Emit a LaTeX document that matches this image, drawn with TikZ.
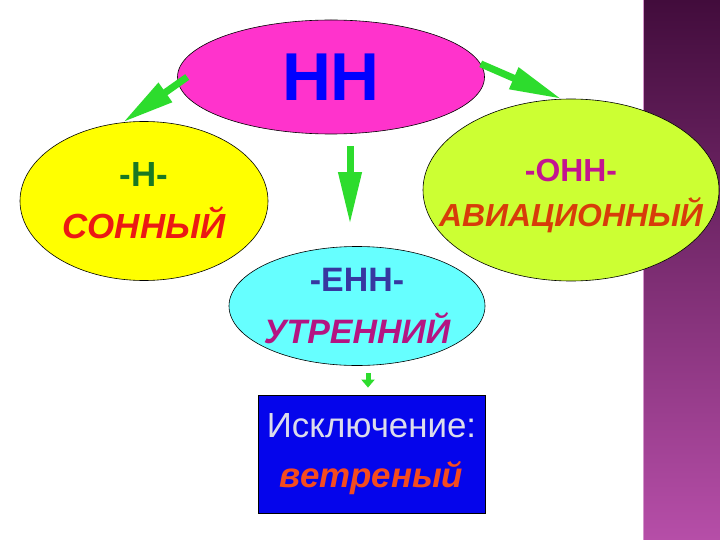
\documentclass[tikz,border=0pt]{standalone}
\usepackage{fontspec}
\setmainfont{Liberation Sans}
\usetikzlibrary{shapes,arrows.meta}
\usetikzlibrary{positioning}
\definecolor{arrgreen}{RGB}{45,220,45}
\definecolor{rootpink}{RGB}{255,51,204}
\definecolor{leafyellow}{RGB}{255,255,0}
\definecolor{leaflime}{RGB}{204,255,51}
\definecolor{leafcyan}{RGB}{102,255,255}
\definecolor{exblue}{RGB}{5,5,235}
\definecolor{nnblue}{RGB}{0,0,255}
\definecolor{hgreen}{RGB}{25,120,35}
\definecolor{sred}{RGB}{235,25,20}
\definecolor{onnpink}{RGB}{195,20,145}
\definecolor{avred}{RGB}{215,60,10}
\definecolor{ennblue}{RGB}{55,55,160}
\definecolor{utrpink}{RGB}{180,20,130}
\definecolor{exgray}{RGB}{220,220,235}
\definecolor{vetred}{RGB}{245,75,30}
\definecolor{stripdark}{RGB}{66,12,60}
\definecolor{striplight}{RGB}{182,78,168}
\tikzstyle{ell} = [draw=black, line width=0.6bp, ellipse, inner sep=0pt]
\tikzstyle{word} = [inner sep=0pt, align=center]
\tikzstyle{block} = [rectangle, draw=black, line width=0.8bp, fill=exblue,
    minimum width=227bp, minimum height=118bp, inner sep=0pt, align=center]
\tikzstyle{line} = [draw=arrgreen, line width=7bp,
    -{Triangle[width=22bp,length=52bp]}]
\tikzstyle{smallline} = [draw=arrgreen, line width=5bp,
    -{Triangle[width=13bp,length=8bp]}]
\begin{document}
\begin{tikzpicture}[x=1bp, y=-1bp]
  \useasboundingbox (0,0) rectangle (720,540);
  \fill[white] (0,0) rectangle (720,540);
  \shade[top color=stripdark, bottom color=striplight] (643,0) rectangle (720,540);
  \draw[striplight!60!white, line width=1bp] (643.5,0) -- (643.5,540);

  % Place nodes
  \node [ell, fill=rootpink, minimum width=307bp, minimum height=114bp] (nn) at (331,77) {};
  \node [ell, fill=leafcyan, minimum width=256bp, minimum height=119bp,
         below of=nn, node distance=229bp, xshift=26bp] (utr) {};
  \node [ell, fill=leafyellow, minimum width=248bp, minimum height=159bp,
         below of=nn, node distance=124bp, xshift=-187bp] (sonny) {};
  \node [ell, fill=leaflime, minimum width=296bp, minimum height=182bp,
         below of=nn, node distance=113bp, xshift=240bp] (avia) {};
  \node [block, below of=utr, node distance=148bp, xshift=14.5bp] (excl) {};

  % texts
  \node [word, text=nnblue, font=\fontsize{68}{80}\selectfont\bfseries] (nntxt) at (nn) {НН};
  \node [word, font=\fontsize{35}{52}\selectfont] (sonnytxt) at (sonny)
        {\textcolor{hgreen}{\bfseries -Н-}\\\textcolor{sred}{\bfseries\itshape СОННЫЙ}};
  \node [word, font=\fontsize{32}{46}\selectfont] (aviatxt) at ([yshift=-6bp]avia.center)
        {\textcolor{onnpink}{\bfseries -ОНН-}\\\textcolor{avred}{\bfseries\itshape АВИАЦИОННЫЙ}};
  \node [word, font=\fontsize{34}{52}\selectfont] (utrtxt) at (utr)
        {\textcolor{ennblue}{\bfseries -ЕНН-}\\\textcolor{utrpink}{\bfseries\itshape УТРЕННИЙ}};
  \node [word, font=\fontsize{35}{50}\selectfont] (excltxt) at (excl)
        {\textcolor{exgray}{Исключение:}\\\textcolor{vetred}{\bfseries\itshape ветреный}};

  % paths
  \path [line] ([xshift=10bp]nn.west) -- (sonny.105);
  \path [line] (nn.5) -- (avia.96);
  \path [line, shorten <=12bp, shorten >=22bp] ([xshift=19bp]nn.south) -- ([xshift=-7bp]utr.north);
  \path [smallline, shorten <=7bp, shorten >=7bp] ([xshift=11bp]utr.south) -- ([xshift=-3.5bp]excl.north);
\end{tikzpicture}
\end{document}
